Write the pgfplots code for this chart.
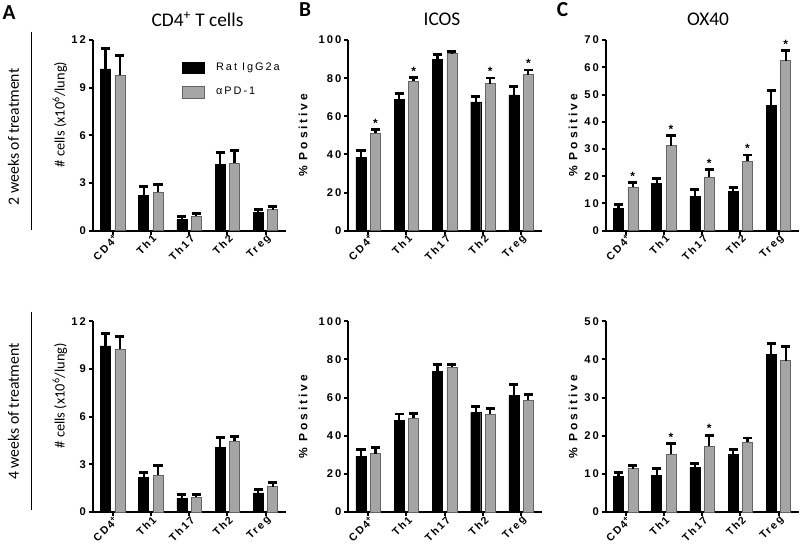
\documentclass[border=0pt]{standalone}
\usepackage{pgfplots}
\usepackage{pgfplotstable}
\pgfplotsset{compat=1.18}
\usepackage{fontspec}
\setmainfont{Carlito}
\newfontfamily\tickfont[LetterSpace=18]{Liberation Sans}
\newfontfamily\labfont[LetterSpace=24]{Liberation Sans}
\definecolor{barg}{RGB}{165,165,165}
\definecolor{bard}{RGB}{100,100,100}

% x  b (black)  be (error)  g (gray)  ge (error)
\pgfplotstableread{
x b be g ge
0 10.19 1.27 9.79 1.21
1 2.22 0.56 2.41 0.50
2 0.71 0.21 0.90 0.19
3 4.16 0.76 4.25 0.81
4 1.15 0.19 1.32 0.19
}\Atop
\pgfplotstableread{
x b be g ge
0 10.46 0.80 10.25 0.78
1 2.18 0.31 2.32 0.61
2 0.88 0.25 0.94 0.15
3 4.06 0.61 4.48 0.27
4 1.21 0.21 1.59 0.29
}\Abot
\pgfplotstableread{
x b be g ge
0 38.6 3.7 51.0 2.1
1 68.9 3.1 78.5 1.9
2 90.0 2.3 92.8 1.4
3 67.5 3.0 77.1 3.0
4 71.2 4.5 81.8 2.5
}\Btop
\pgfplotstableread{
x b be g ge
0 29.2 3.8 30.6 3.0
1 47.9 3.5 49.3 2.6
2 73.9 3.5 75.9 1.7
3 52.1 3.3 51.2 3.3
4 61.2 5.9 58.7 2.8
}\Bbot
\pgfplotstableread{
x b be g ge
0 8.3 1.4 16.0 1.6
1 17.5 1.5 31.2 3.6
2 12.5 2.7 19.7 2.6
3 14.4 1.5 25.5 2.3
4 45.9 5.5 62.4 3.7
}\Ctop
\pgfplotstableread{
x b be g ge
0 9.3 1.1 11.4 0.8
1 9.7 1.8 15.2 2.7
2 11.8 1.0 17.3 2.8
3 15.1 1.2 18.3 1.1
4 41.3 2.8 39.7 3.8
}\Cbot

\pgfplotsset{
  panel/.style={
    scale only axis, width=145.125pt, height=143pt,
    anchor=south west,
    xmin=-0.52, xmax=4.54, ymin=0,
    axis x line*=bottom, axis y line*=left,
    axis line style={line width=1.5pt},
    every tick/.style={black, line width=1.5pt},
    major tick length=3pt,
    tick align=outside,
    xtick={0,...,4},
    xticklabels={CD4\textsuperscript{+}, Th1, Th17, Th2, Treg},
    xticklabel style={rotate=45, anchor=east, inner sep=1pt, xshift=2pt, yshift=-3pt, font=\tickfont\bfseries\fontsize{8}{9}\selectfont},
    yticklabel style={inner sep=2pt, font=\tickfont\bfseries\fontsize{8.4}{9}\selectfont},
    /pgf/number format/assume math mode=true,
    clip=false,
  },
  pctlabel/.style={ylabel={\% Positive}, ylabel style={font=\labfont\bfseries\fontsize{9}{10}\selectfont, at={(axis description cs:#1,0.50)}, anchor=center}},
  celllabel/.style={ylabel={\# cells (x10\textsuperscript{6}/lung)}, ylabel style={font=\fontsize{10.8}{12}\selectfont, at={(axis description cs:-0.17,0.61)}, anchor=center}},
  bars/.style={forget plot, ybar, bar width=7.5pt, bar shift=0pt,
     error bars/y dir=plus, error bars/y explicit,
     error bars/error bar style={line width=1.7pt, black},
     error bars/error mark options={black, rotate=90, mark size=3.4pt, line width=2.2pt}},
  blackbar/.style={bars, fill=black, draw=black, line width=0.3pt},
  graybar/.style={bars, fill=barg, draw=bard, line width=0.4pt},
  stars/.style={forget plot, draw=none, mark=none, nodes near coords={\tickfont\bfseries\fontsize{9}{9}\selectfont *},
     every node near coord/.append style={anchor=south, xshift=5.4pt, inner sep=1.6pt}},
}
\newcommand{\pair}[1]{%
  \addplot[blackbar] table[x expr=\thisrow{x}-0.188, y=b, y error=be] {#1};
  \addplot[graybar] table[x expr=\thisrow{x}+0.188, y=g, y error=ge] {#1};
}

\begin{document}
\begin{tikzpicture}[x=0.75pt,y=0.75pt]
\path[use as bounding box] (0,0) rectangle (800,558);

% ---------------- row 1 ----------------
\begin{axis}[panel, at={(69.525pt,245.475pt)}, ymax=12, ytick={0,3,...,12}, celllabel,
  legend style={at={(axis description cs:0.46,0.895)}, anchor=north west, draw=none, fill=none, inner sep=0pt,
    row sep=7pt, column sep=7pt, font=\tickfont\fontsize{8.2}{9}\selectfont, cells={anchor=west}}]
\addlegendimage{legend image code/.code={\draw[fill=black,draw=black] (0pt,-4.4pt) rectangle (16.2pt,4.4pt);}}
\addlegendentry{Rat IgG2a}
\addlegendimage{legend image code/.code={\draw[fill=barg,draw=bard,line width=0.4pt] (0pt,-4.4pt) rectangle (16.2pt,4.4pt);}}
\addlegendentry{αPD-1}
\pair{\Atop}
\end{axis}

\begin{axis}[panel, at={(261.225pt,245.475pt)}, ymax=100, ytick={0,20,...,100}, pctlabel=-0.234]
\pair{\Btop}
\addplot[stars] coordinates {(0,53.1) (1,80.4) (3,80.1) (4,84.3)};
\end{axis}

\begin{axis}[panel, at={(454.275pt,245.475pt)}, ymax=70, ytick={0,10,...,70}, pctlabel=-0.169]
\pair{\Ctop}
\addplot[stars] coordinates {(0,17.6) (1,34.8) (2,22.3) (3,27.8) (4,66.1)};
\end{axis}

% ---------------- row 2 ----------------
\begin{axis}[panel, at={(69.525pt,34.5pt)}, ymax=12, ytick={0,3,...,12}, celllabel]
\pair{\Abot}
\end{axis}

\begin{axis}[panel, at={(261.225pt,34.5pt)}, ymax=100, ytick={0,20,...,100}, pctlabel=-0.234]
\pair{\Bbot}
\end{axis}

\begin{axis}[panel, at={(454.275pt,34.5pt)}, ymax=50, ytick={0,10,...,50}, pctlabel=-0.169]
\pair{\Cbot}
\addplot[stars] coordinates {(1,17.9) (2,20.1)};
\end{axis}

% ---------------- annotations ----------------
\node[font=\bfseries\fontsize{16}{18}\selectfont] at (9,{558-13}) {A};
\node[font=\bfseries\fontsize{16}{18}\selectfont] at (305,{558-10}) {B};
\node[font=\bfseries\fontsize{16}{18}\selectfont] at (562.5,{558-10}) {C};
\node[font=\fontsize{14.5}{16}\selectfont] at (197.5,{558-19}) {CD4\textsuperscript{+} T cells};
\node[font=\fontsize{14.5}{16}\selectfont] at (442,{558-19}) {ICOS};
\node[font=\fontsize{14.5}{16}\selectfont] at (708,{558-19}) {OX40};
\draw[line width=1pt] (31.7,{558-32}) -- (31.7,{558-230});
\draw[line width=1pt] (31.7,{558-311.7}) -- (31.7,{558-510});
\node[rotate=90, font=\fontsize{11.8}{14}\selectfont] at (13.5,{558-137}) {2 weeks of treatment};
\node[rotate=90, font=\fontsize{11.8}{14}\selectfont] at (13.5,{558-411.5}) {4 weeks of treatment};
\end{tikzpicture}
\end{document}
